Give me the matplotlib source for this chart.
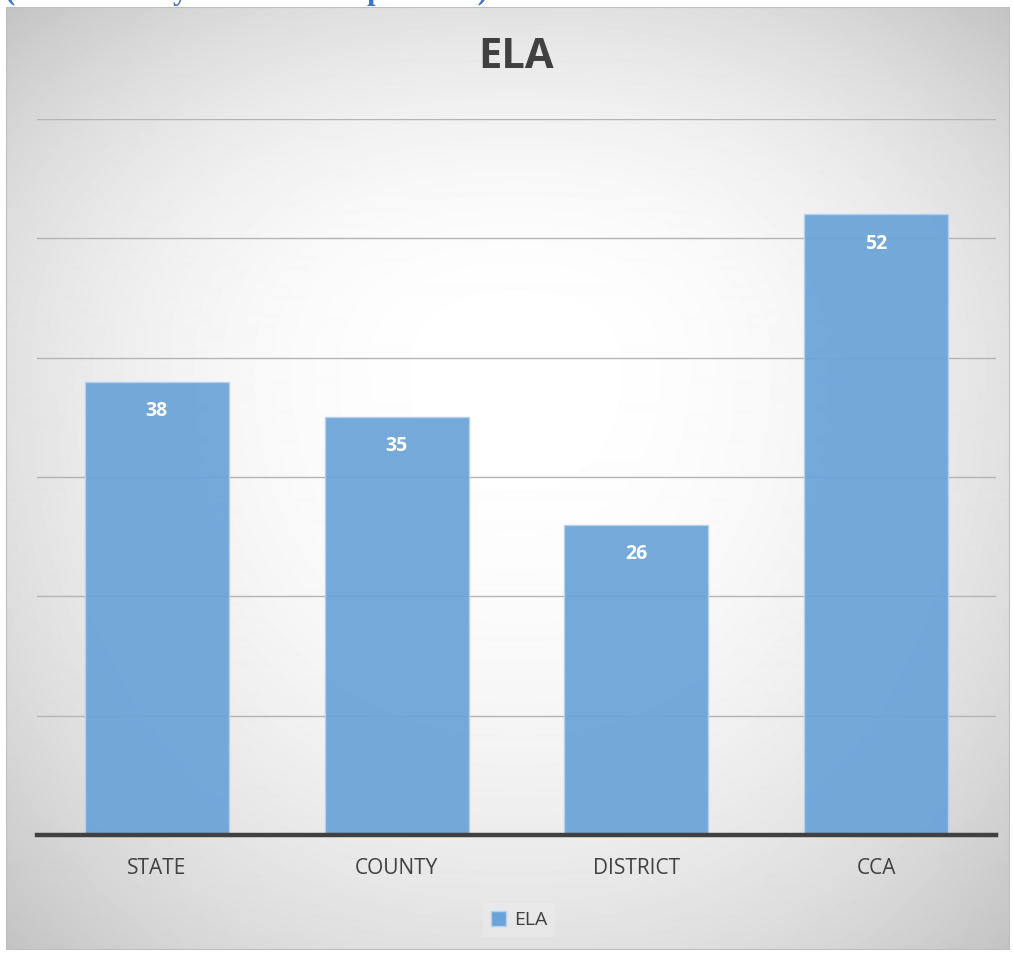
import numpy as np
import matplotlib
matplotlib.use("Agg")
import matplotlib.pyplot as plt
from matplotlib.patches import Patch, Rectangle

# ----------------------------------------------------------------------
# Data
# ----------------------------------------------------------------------
categories = ["STATE", "COUNTY", "DISTRICT", "CCA"]
ela_values = [38, 35, 26, 52]
series_name = "ELA"

W, H = 1013, 955
fig = plt.figure(figsize=(W / 100, H / 100), dpi=100)
fig.patch.set_facecolor("white")

# Heading above the chart panel, cut off by the top edge as in the page crop
fig.text(5 / W, 1 + 1 / H, "(State-County-District Comparisons)",
         ha="left", va="baseline", fontsize=22, fontweight="bold",
         family="Liberation Serif", color="#4472c4")

# ----------------------------------------------------------------------
# Panel with radial-ish gradient background
# ----------------------------------------------------------------------
px0, py0, px1, py1 = 6, 7, 1010, 950
pw, ph = px1 - px0, py1 - py0
bg = fig.add_axes([px0 / W, 1 - py1 / H, pw / W, ph / H])
gx, gy = np.meshgrid(np.arange(pw), np.arange(ph))
cx, cy = 512, 360
u = np.abs(gx - cx) / np.where(gx < cx, cx, pw - cx)
v = np.abs(gy - cy) / np.where(gy < cy, cy, ph - cy)
shade = 1 - 0.118 * (u ** 2.2 + v ** 2.2)
bg.imshow(shade, cmap="gray", vmin=0, vmax=1, extent=[0, pw, ph, 0],
          aspect="auto", interpolation="bilinear")
bg.add_patch(Rectangle((0, 0), pw, ph, fill=False, edgecolor="#bdbdbd",
                       linewidth=1.5))
bg.set_xlim(0, pw)
bg.set_ylim(ph, 0)
bg.axis("off")

# ----------------------------------------------------------------------
# Bar chart
# ----------------------------------------------------------------------
left, right, top, base = 37, 996, 119, 835
ax = fig.add_axes([left / W, 1 - base / H, (right - left) / W, (base - top) / H])
ax.patch.set_alpha(0)

x = np.arange(len(categories))
bars = ax.bar(x, ela_values, width=0.6, color="#6aa3d8", alpha=0.93,
              edgecolor="#b5d1ee", linewidth=1.0, zorder=3)

ax.set_xlim(-0.5, len(categories) - 0.5)
ax.set_ylim(0, 60)
ax.set_yticks(np.arange(10, 61, 10))
ax.yaxis.grid(True, color="#b4b4b4", linewidth=1.0, zorder=0)
ax.set_axisbelow(True)
ax.tick_params(axis="y", left=False, labelleft=False)
ax.tick_params(axis="x", bottom=False, pad=13)
ax.set_xticks(x)
ax.set_xticklabels(categories, fontsize=15, family="Open Sans", color="#404040")

for s in ["top", "left", "right"]:
    ax.spines[s].set_visible(False)
ax.spines["bottom"].set_color("#404040")
ax.spines["bottom"].set_linewidth(3.2)
ax.spines["bottom"].set_zorder(4)

for rect, val in zip(bars, ela_values):
    ax.text(rect.get_x() + rect.get_width() / 2, val - 1.6, str(val),
            ha="center", va="top", color="white", fontsize=14,
            fontweight="bold", family="Open Sans", zorder=5)

fig.text(516 / W, 1 - 58 / H, "ELA", ha="center", va="center",
         fontsize=30, fontweight="bold", family="Open Sans", color="#404040")

handle = Patch(facecolor="#6aa3d8", edgecolor="#b5d1ee", label=series_name)
fig.legend(handles=[handle], loc="center", bbox_to_anchor=(519 / W, 1 - 920 / H),
           frameon=True, facecolor="white", framealpha=0.15, edgecolor="none",
           fancybox=False, handlelength=0.8, handleheight=0.8, handletextpad=0.4,
           prop={"family": "Open Sans", "size": 14}, labelcolor="#404040")

fig.savefig("out.png", dpi=100)
